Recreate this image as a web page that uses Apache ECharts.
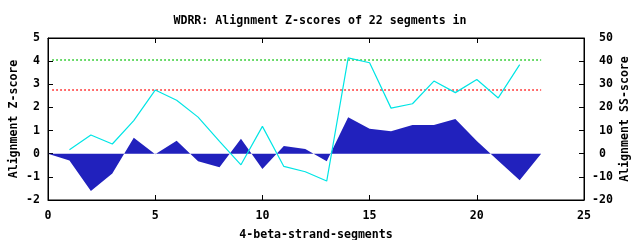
<!DOCTYPE html>
<html><head><meta charset="utf-8">
<script src="https://cdn.jsdelivr.net/npm/echarts@6/dist/echarts.min.js"></script>
<style>html,body{margin:0;padding:0;background:#fff}#c{width:640px;height:240px}</style>
</head><body><div id="c"></div>
<script>
const titleText = "WDRR: Alignment Z-scores of 22 segments in";
const xLabel = "4-beta-strand-segments";
const yLeftLabel = "Alignment Z-score";
const yRightLabel = "Alignment SS-score";
const zX = [0,1,2,3,4,5,6,7,8,9,10,11,12,13,14,15,16,17,18,19,20,21,22,23];
const zScores = [0,-0.29,-1.61,-0.86,0.69,-0.02,0.56,-0.33,-0.58,0.65,-0.66,0.33,0.2,-0.33,1.58,1.08,0.97,1.24,1.24,1.5,0.55,-0.3,-1.15,0];
const ssX = [1,2,3,4,5,6,7,8,9,10,11,12,13,14,15,16,17,18,19,20,21,22];
const ssScores = [1.7,8.1,4.2,14.3,27.5,23.1,15.8,5.3,-4.8,11.8,-5.5,-7.8,-11.8,41.4,39.3,19.7,21.6,31.4,26.4,32.1,24.1,38.5];
const greenLevel = 4.05;
const redLevel = 2.75;
const refRange = [0.2,23];

const font = "DejaVu Sans Mono";
const chart = echarts.init(document.getElementById('c'), null, {renderer:'canvas'});
const lab = {color:'#000', fontFamily:font, fontSize:11.6, fontWeight:'bold'};
chart.setOption({
  animation:false,
  title:{text:titleText, left:'center', top:10, textStyle:{...lab}},
  grid:{left:48, right:56, top:38, bottom:40, show:true, borderColor:'#000', borderWidth:1, containLabel:false, outerBoundsMode:'none'},
  xAxis:[
    {type:'value', min:0, max:25, interval:5, position:'bottom',
     name:xLabel, nameLocation:'middle', nameGap:29, nameMoveOverlap:false, nameTextStyle:{...lab},
     axisLine:{show:true, onZero:false, lineStyle:{color:'#000'}},
     axisTick:{show:true, inside:true, length:5, lineStyle:{color:'#000'}},
     axisLabel:{...lab, margin:10}, splitLine:{show:false}},
    {type:'value', min:0, max:25, interval:5, position:'top',
     axisLine:{show:true, onZero:false, lineStyle:{color:'#000'}},
     axisTick:{show:true, inside:true, length:5, lineStyle:{color:'#000'}},
     axisLabel:{show:false}, splitLine:{show:false}}
  ],
  yAxis:[
    {type:'value', min:-2, max:5, interval:1, position:'left',
     name:yLeftLabel, nameLocation:'middle', nameGap:28, nameRotate:90, nameMoveOverlap:false, nameTextStyle:{...lab},
     axisLine:{show:true, onZero:false, lineStyle:{color:'#000'}},
     axisTick:{show:true, inside:true, length:5, lineStyle:{color:'#000'}},
     axisLabel:{...lab, margin:8}, splitLine:{show:false}},
    {type:'value', min:-20, max:50, interval:10, position:'right',
     name:yRightLabel, nameLocation:'middle', nameGap:35, nameRotate:90, nameMoveOverlap:false, nameTextStyle:{...lab},
     axisLine:{show:true, onZero:false, lineStyle:{color:'#000'}},
     axisTick:{show:true, inside:true, length:5, lineStyle:{color:'#000'}},
     axisLabel:{...lab, margin:8, formatter:v => v < 0 ? String(v) : ' ' + v}, splitLine:{show:false}}
  ],
  series:[
    {type:'line', xAxisIndex:0, yAxisIndex:0, data:zX.map((x,i)=>[x,zScores[i]]),
     symbol:'none', lineStyle:{width:0}, areaStyle:{color:'#2121bd', opacity:1, origin:0}},
    {type:'line', xAxisIndex:0, yAxisIndex:0, data:refRange.map(x=>[x,greenLevel]),
     symbol:'none', lineStyle:{color:'#00c000', width:1.5, type:[1.5,2.5]}},
    {type:'line', xAxisIndex:0, yAxisIndex:0, data:refRange.map(x=>[x,redLevel]),
     symbol:'none', lineStyle:{color:'#ff0000', width:1.5, type:[1.5,2.5]}},
    {type:'line', xAxisIndex:0, yAxisIndex:1, data:ssX.map((x,i)=>[x,ssScores[i]]),
     symbol:'none', lineStyle:{color:'#00e5e5', width:1.2}}
  ]
});
</script></body></html>
